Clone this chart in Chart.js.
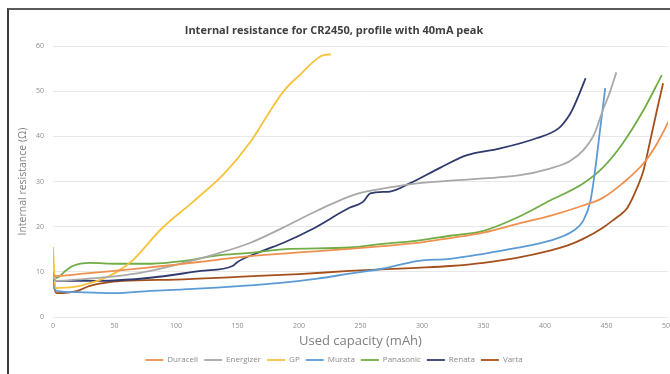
<!DOCTYPE html>
<html>
<head>
<meta charset="utf-8">
<script src="https://cdn.jsdelivr.net/npm/chart.js@4/dist/chart.umd.min.js"></script>
<style>
  html, body { margin: 0; padding: 0; background: #ffffff; overflow: hidden; }
  #wrap { position: relative; width: 670px; height: 374px; overflow: hidden; }
  #chart { position: absolute; left: 0; top: 0; }
  #frame {
    position: absolute; left: 7px; top: 8px; width: 700px; height: 400px;
    border-left: 2px solid #3c3c3c; border-top: 2px solid #5a5a5a;
    pointer-events: none;
  }
</style>
</head>
<body>
<div id="wrap">
  <canvas id="chart" width="690" height="374"></canvas>
  <div id="frame"></div>
</div>
<script>
// Used capacity (mAh) and internal resistance (Ω) per cell brand
const duracellMah = [0, 1, 3, 25, 50, 75, 100, 125, 150, 175, 200, 241, 268, 296, 323, 350, 377, 404, 431, 447, 463, 480, 491, 502, 510];
const duracellOhm = [9.5, 9.2, 9.1, 9.6, 10.2, 10.9, 11.6, 12.4, 13.2, 13.8, 14.3, 15.1, 15.7, 16.4, 17.5, 18.7, 20.6, 22.4, 24.7, 26.4, 29.6, 34.0, 38.4, 44.2, 49.0];

const energizerMah = [0, 1, 3, 25, 50, 75, 106, 133, 160, 187, 215, 247, 274, 296, 323, 350, 377, 404, 420, 431, 440, 447, 453, 458];
const energizerOhm = [9.0, 8.3, 8.0, 8.4, 9.0, 10.0, 12.0, 14.0, 16.4, 19.8, 23.6, 27.3, 28.7, 29.6, 30.2, 30.7, 31.3, 32.9, 34.5, 36.9, 40.5, 45.8, 50.0, 54.2];

const gpMah = [0, 1, 2, 10, 20, 30, 40, 52, 65, 88, 115, 139, 161, 175, 188, 202, 215, 220, 226];
const gpOhm = [15.5, 10.0, 6.4, 6.5, 6.8, 7.5, 8.4, 10.0, 12.6, 19.5, 25.8, 31.7, 39.0, 45.0, 50.2, 54.0, 57.3, 58.0, 58.2];

const murataMah = [0, 1, 3, 20, 50, 79, 106, 133, 160, 187, 215, 241, 270, 296, 323, 350, 377, 404, 423, 431, 437, 441, 445, 449];
const murataOhm = [8.0, 6.5, 5.8, 5.5, 5.3, 5.8, 6.1, 6.5, 7.0, 7.6, 8.5, 9.6, 10.8, 12.4, 12.9, 14.0, 15.3, 16.9, 19.1, 21.3, 25.8, 33.1, 42.0, 50.7];

const panasonicMah = [0, 1, 3, 10, 16, 30, 52, 80, 106, 133, 160, 187, 241, 268, 296, 323, 350, 377, 404, 431, 447, 463, 480, 495];
const panasonicOhm = [10.0, 8.8, 8.7, 10.2, 11.3, 12.0, 11.8, 11.8, 12.4, 13.6, 14.2, 15.0, 15.4, 16.2, 16.9, 18.0, 19.1, 22.0, 25.8, 29.6, 33.1, 38.4, 45.8, 53.6];

const renataMah = [0, 1, 3, 38, 79, 120, 146, 150, 171, 187, 211, 241, 252, 258, 274, 290, 315, 336, 363, 393, 411, 418, 422, 428, 433];
const renataOhm = [9.5, 8.3, 8.0, 8.0, 8.7, 10.2, 11.3, 12.2, 14.7, 16.4, 19.5, 24.2, 25.5, 27.4, 27.8, 29.6, 33.1, 35.8, 37.3, 39.6, 41.8, 44.0, 45.8, 49.5, 52.9];

const vartaMah = [0, 1, 3, 20, 30, 57, 100, 150, 200, 241, 296, 323, 350, 377, 404, 418, 431, 447, 458, 462, 467, 475, 480, 485, 491, 496];
const vartaOhm = [9.0, 6.5, 5.3, 5.8, 6.9, 8.0, 8.3, 8.9, 9.5, 10.2, 10.9, 11.3, 12.0, 13.1, 14.7, 15.8, 17.3, 19.8, 22.0, 22.8, 24.2, 28.7, 32.4, 38.4, 45.8, 51.8];

const seriesNames = ['Duracell', 'Energizer', 'GP', 'Murata', 'Panasonic', 'Renata', 'Varta'];
const seriesColors = ['#EE914F', '#A8A8A8', '#F7C23C', '#5B9BD5', '#70AD47', '#2F3A6E', '#A5501C'];
const seriesMah = [duracellMah, energizerMah, gpMah, murataMah, panasonicMah, renataMah, vartaMah];
const seriesOhm = [duracellOhm, energizerOhm, gpOhm, murataOhm, panasonicOhm, renataOhm, vartaOhm];

const yTicks = [0, 10, 20, 30, 40, 50, 60];
const xTicks = [0, 50, 100, 150, 200, 250, 300, 350, 400, 450, 500];

const datasets = seriesNames.map((name, i) => ({
  label: name,
  data: seriesMah[i].map((x, k) => ({ x: x, y: seriesOhm[i][k] })),
  borderColor: seriesColors[i],
  backgroundColor: seriesColors[i],
  borderWidth: 1.8,
  pointRadius: 0,
  tension: 0.3,
  cubicInterpolationMode: 'monotone',
  fill: false
}));

const FONT = '"Open Sans", "Liberation Sans", sans-serif';

new Chart(document.getElementById('chart'), {
  type: 'line',
  data: { datasets: datasets },
  options: {
    responsive: false,
    animation: false,
    layout: { padding: { left: 0, right: 22, top: 0, bottom: 0 } },
    plugins: {
      title: {
        display: true,
        text: 'Internal resistance for CR2450, profile with 40mA peak',
        color: '#404040',
        font: { family: FONT, size: 11, weight: 'bold' },
        padding: { top: 24, bottom: 9 }
      },
      legend: {
        position: 'bottom',
        labels: {
          color: '#8a8a8a',
          font: { family: FONT, size: 8 },
          usePointStyle: true,
          pointStyle: 'line',
          pointStyleWidth: 18,
          boxHeight: 8,
          padding: 6
        }
      },
      tooltip: { enabled: false }
    },
    scales: {
      x: {
        type: 'linear',
        min: 0,
        max: 500,
        afterBuildTicks: (s) => { s.ticks = xTicks.map(v => ({ value: v })); },
        afterFit: (s) => { s.height = 33; },
        grid: { display: false, drawTicks: false },
        border: { display: false },
        ticks: { color: '#8c8c8c', font: { family: FONT, size: 7 }, padding: 5, maxRotation: 0 },
        title: {
          display: true,
          text: 'Used capacity (mAh)',
          color: '#7f7f7f',
          font: { family: FONT, size: 13 },
          padding: { top: 0, bottom: 1 }
        }
      },
      y: {
        min: 0,
        max: 60,
        afterBuildTicks: (s) => { s.ticks = yTicks.map(v => ({ value: v })); },
        afterFit: (s) => { s.width = 53; },
        grid: { color: '#e8e8e8', drawTicks: false, lineWidth: 1 },
        border: { display: false },
        ticks: { color: '#8c8c8c', font: { family: FONT, size: 7 }, padding: 9 },
        title: {
          display: true,
          text: 'Internal resistance (Ω)',
          color: '#7f7f7f',
          font: { family: FONT, size: 10.5 },
          padding: { top: 17, bottom: 0 }
        }
      }
    }
  }
});
</script>
</body>
</html>
